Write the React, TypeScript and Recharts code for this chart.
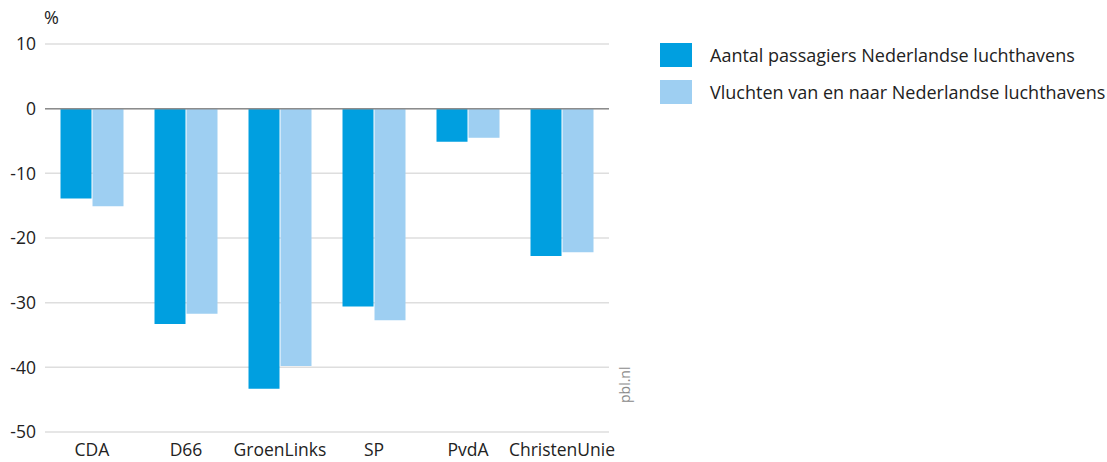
import { BarChart, Bar, XAxis, YAxis, CartesianGrid, ReferenceLine } from "recharts";

const parties = ["CDA", "D66", "GroenLinks", "SP", "PvdA", "ChristenUnie"];
const passengers = [-13.9, -33.3, -43.3, -30.6, -5.1, -22.8];
const flights = [-15.1, -31.7, -39.8, -32.7, -4.5, -22.2];
const yTicks = [10, 0, -10, -20, -30, -40, -50];

const seriesNames = [
  "Aantal passagiers Nederlandse luchthavens",
  "Vluchten van en naar Nederlandse luchthavens",
];
const DARK = "#009fe0";
const LIGHT = "#9ecff2";
const FONT = "'Open Sans', 'Noto Sans', sans-serif";

const data = parties.map((p, i) => ({ party: p, passengers: passengers[i], flights: flights[i] }));

export default function App() {
  return (
    <div style={{ position: "absolute", left: 0, top: 0, width: 1107, height: 462, background: "#fff", fontFamily: FONT }}>
      {/* unit label */}
      <div style={{ position: "absolute", left: 44, top: 5, fontSize: 18, color: "#222" }}>%</div>

      <BarChart
        width={620}
        height={462}
        data={data}
        margin={{ top: 44, right: 11, bottom: 0, left: 0 }}
        barCategoryGap="16.5%"
        barGap={1}
      >
        <CartesianGrid horizontal vertical={false} stroke="#dedede" strokeWidth={1.5} />
        <XAxis
          dataKey="party"
          height={30}
          axisLine={false}
          tickLine={false}
          tickMargin={6}
          tick={{ fill: "#222", fontSize: 17.5, fontFamily: FONT }}
          interval={0}
        />
        <YAxis
          width={45}
          domain={[-50, 10]}
          ticks={yTicks}
          axisLine={false}
          tickLine={false}
          tickSize={0}
          tickMargin={9}
          tick={{ fill: "#222", fontSize: 17.5, fontFamily: FONT }}
        />
        <ReferenceLine y={0} stroke="#8c8c8c" strokeWidth={1.5} />
        <Bar dataKey="passengers" fill={DARK} isAnimationActive={false} />
        <Bar dataKey="flights" fill={LIGHT} isAnimationActive={false} />
      </BarChart>

      {/* source */}
      <div
        style={{
          position: "absolute",
          left: 615,
          top: 403,
          transform: "rotate(-90deg)",
          transformOrigin: "0 0",
          fontSize: 14,
          color: "#8a8a8a",
        }}
      >
        pbl.nl
      </div>

      {/* legend */}
      <div style={{ position: "absolute", left: 660, top: 43 }}>
        {seriesNames.map((name, i) => (
          <div key={name} style={{ display: "flex", alignItems: "center", height: 24, marginBottom: 13 }}>
            <div style={{ width: 32, height: 24, background: i === 0 ? DARK : LIGHT }} />
            <span style={{ marginLeft: 18, fontSize: 18, color: "#222", whiteSpace: "nowrap" }}>{name}</span>
          </div>
        ))}
      </div>
    </div>
  );
}
